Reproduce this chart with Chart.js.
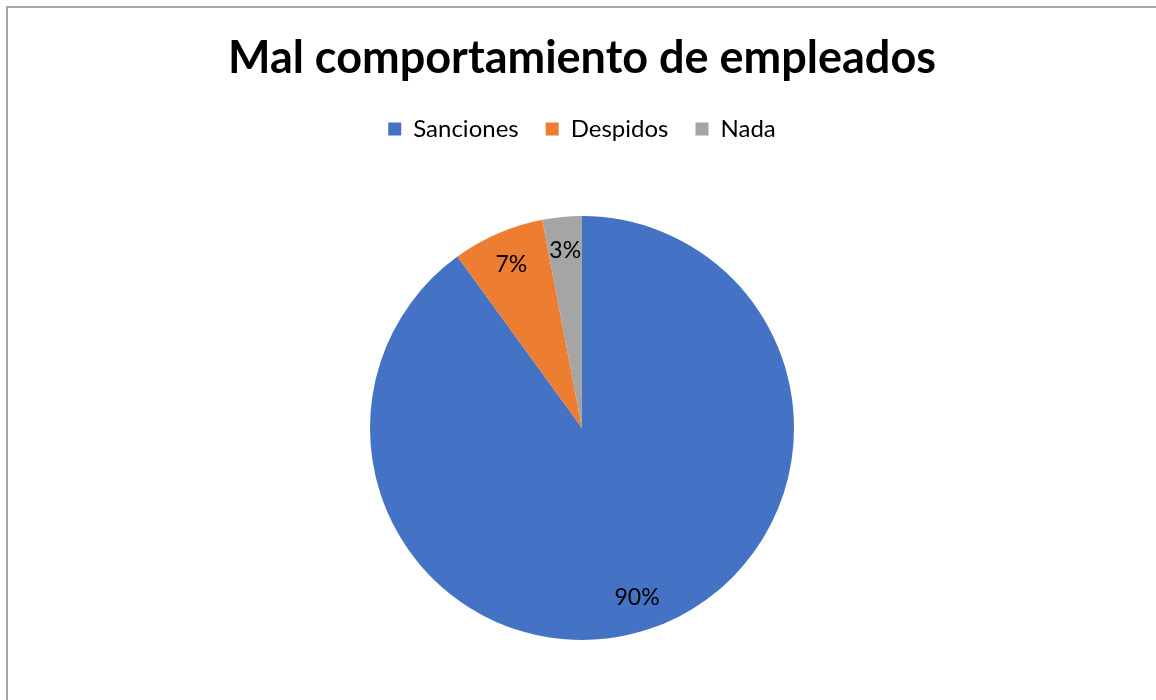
<!DOCTYPE html>
<html>
<head>
<meta charset="utf-8">
<script src="https://cdn.jsdelivr.net/npm/chart.js@4/dist/chart.umd.min.js"></script>
<style>
  html, body { margin: 0; padding: 0; background: #fff; overflow: hidden; }
  #frame {
    position: absolute; left: 6px; top: 6px; width: 1200px; height: 760px;
    border-left: 2px solid #a6a6a6; border-top: 2px solid #a6a6a6;
  }
  #wrap { position: absolute; left: 0; top: 0; width: 1156px; height: 700px; }
</style>
</head>
<body>
<div id="frame"></div>
<div id="wrap"><canvas id="c" width="1156" height="700"></canvas></div>
<script>
// Respuestas ante el mal comportamiento de empleados (porcentaje)
const categories = ['Sanciones', 'Despidos', 'Nada'];
const percentages = [90, 7, 3];
const colors = ['#4472C4', '#ED7D31', '#A5A5A5'];

const FONT = 'Lato, "Open Sans", sans-serif';

// Writes each slice's percentage inside the slice, along its middle angle
const sliceLabels = {
  id: 'sliceLabels',
  afterDatasetsDraw(chart) {
    const ctx = chart.ctx;
    const meta = chart.getDatasetMeta(0);
    const values = chart.data.datasets[0].data;
    ctx.save();
    ctx.fillStyle = '#000';
    ctx.font = '23px ' + FONT;
    ctx.textAlign = 'center';
    ctx.textBaseline = 'middle';
    meta.data.forEach((arc, i) => {
      const p = arc.getProps(['x', 'y', 'startAngle', 'endAngle', 'outerRadius'], true);
      const mid = (p.startAngle + p.endAngle) / 2;
      const r = p.outerRadius * 0.84;
      ctx.fillText(values[i] + '%', p.x + Math.cos(mid) * r, p.y + Math.sin(mid) * r);
    });
    ctx.restore();
  }
};

// Leaves extra room between the legend row and the pie
const legendGap = {
  id: 'legendGap',
  beforeInit(chart) {
    const legend = chart.legend;
    if (!legend) return;
    const fit = legend.fit;
    legend.fit = function () {
      fit.call(this);
      this.height += 65;
    };
  }
};

new Chart(document.getElementById('c'), {
  type: 'pie',
  data: {
    labels: categories,
    datasets: [{
      data: percentages,
      backgroundColor: colors,
      borderWidth: 0,
      hoverOffset: 0
    }]
  },
  options: {
    responsive: false,
    animation: false,
    events: [],
    layout: { padding: { left: 8, right: 0, top: 0, bottom: 60 } },
    plugins: {
      title: {
        display: true,
        text: 'Mal comportamiento de empleados',
        color: '#000',
        font: { family: FONT, size: 45, weight: 'bold' },
        padding: { top: 31, bottom: 5 }
      },
      legend: {
        display: true,
        position: 'top',
        labels: {
          color: '#000',
          font: { family: FONT, size: 24 },
          boxWidth: 13,
          boxHeight: 13,
          padding: 27
        }
      },
      tooltip: { enabled: false }
    }
  },
  plugins: [sliceLabels, legendGap]
});
</script>
</body>
</html>
